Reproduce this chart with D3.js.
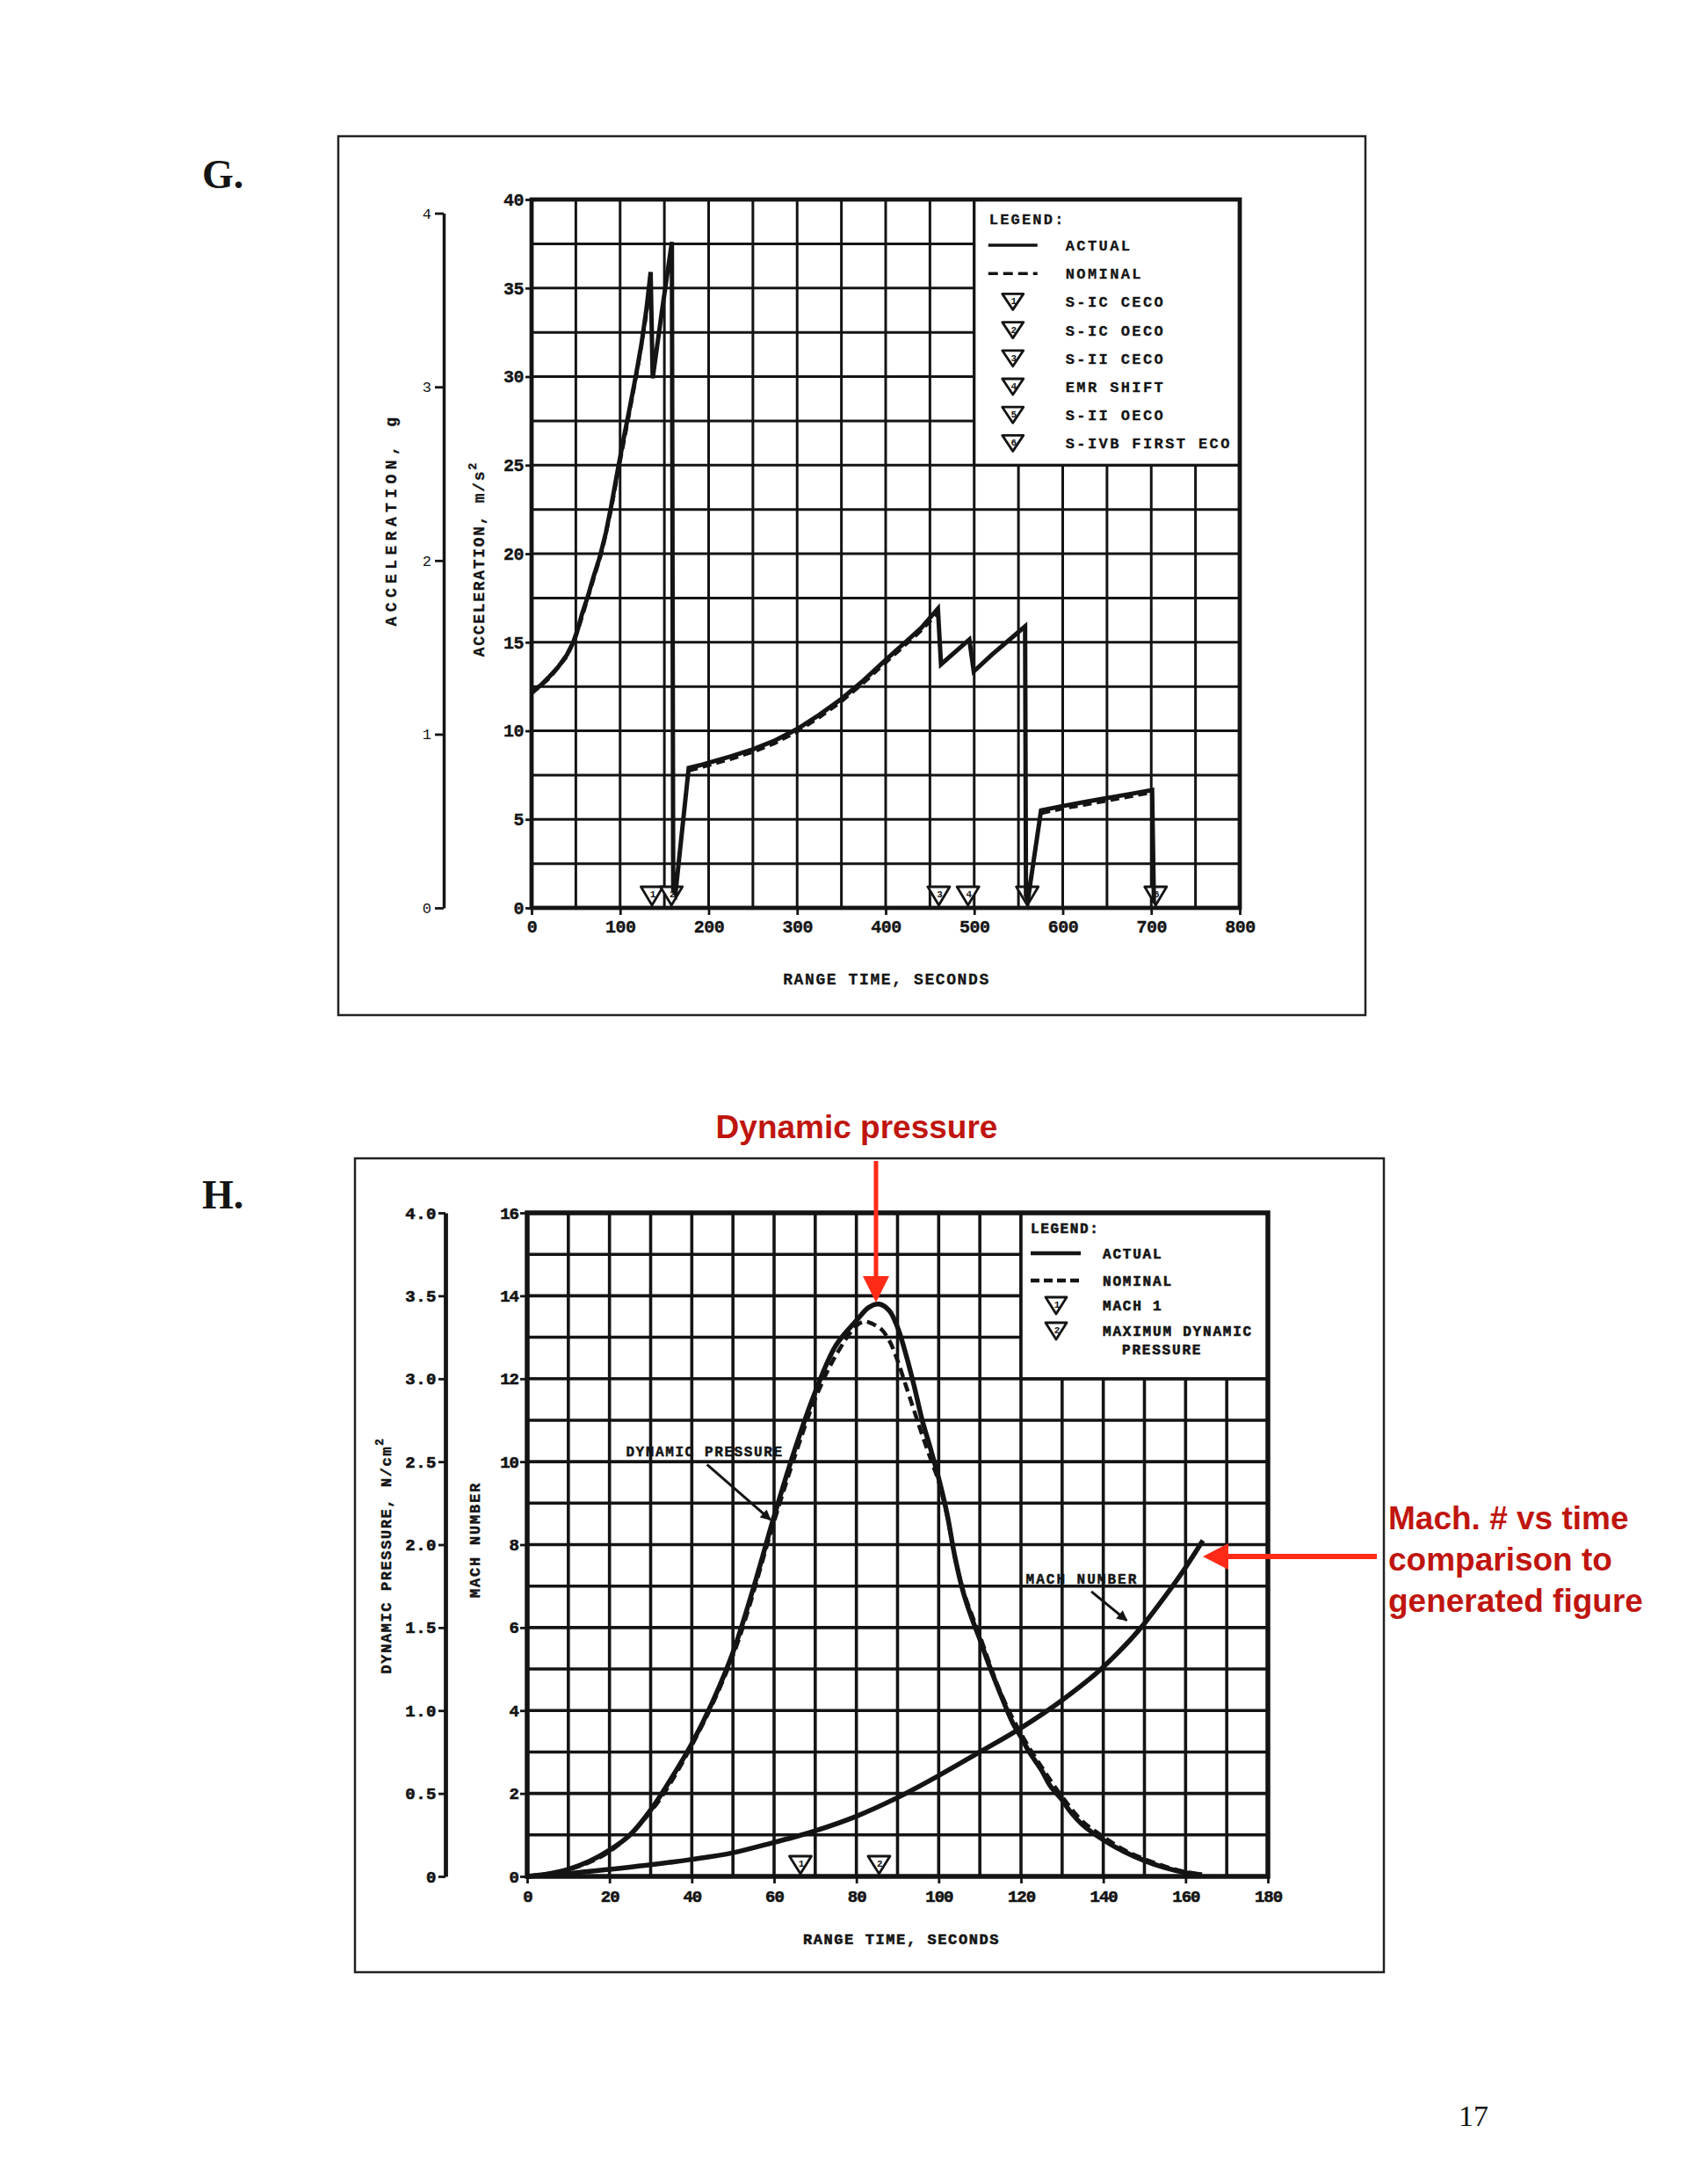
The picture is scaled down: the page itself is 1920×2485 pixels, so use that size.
<!DOCTYPE html>
<html>
<head>
<meta charset="utf-8">
<script src="https://cdn.jsdelivr.net/npm/d3@7"></script>
<style>
  body { margin: 0; background: #fff; }
  svg { display: block; background: #fff; }
</style>
</head>
<body>
<svg id="page" width="1920" height="2485"></svg>
<script>
// ---- chart G : acceleration vs range time ----
const gTimeTicks = [0, 100, 200, 300, 400, 500, 600, 700, 800];
const gAccelTicks = [0, 5, 10, 15, 20, 25, 30, 35, 40];
const gGTicks = [0, 1, 2, 3, 4];

// [range time s, acceleration m/s^2]
const gActual = [
  [0, 12.2], [10, 12.55], [20, 13.05], [30, 13.6], [40, 14.3], [47, 15.0], [52, 15.7],
  [57, 16.6], [63, 17.5], [70, 18.7], [77, 19.8], [84, 21.2], [90, 22.7], [98, 24.9],
  [104, 26.5], [110, 28.0], [118, 30.1], [124, 31.8], [130, 33.9], [134.5, 35.9],
  [136.8, 29.9], [147, 33.6], [158.5, 37.6], [160, 1.0], [162.5, 0.8], [177.5, 7.9],
  [190, 8.05], [200, 8.2], [225, 8.55], [250, 8.95], [275, 9.45], [300, 10.1],
  [325, 10.9], [350, 11.8], [375, 12.85], [400, 14.0], [420, 14.9], [440, 15.8],
  [459, 16.9], [462.5, 13.75], [494.5, 15.15], [499.5, 13.35], [520, 14.3], [540, 15.15],
  [557.5, 15.9], [558.5, 0.7], [560.5, 0.4], [575.5, 5.5], [600, 5.75], [625, 5.98],
  [650, 6.2], [675, 6.42], [701, 6.65], [703, 0.3]
];
// null value = gap between burns
const gNominal = [
  [0, 12.1], [20, 12.95], [40, 14.2], [50, 15.3], [60, 16.9], [70, 18.55], [80, 20.2],
  [90, 22.5], [100, 25.2], [110, 27.8], [120, 30.5], [130, 33.6], [134.3, 35.6],
  [150, null],
  [178, 7.75], [200, 8.05], [225, 8.4], [250, 8.8], [275, 9.3], [300, 9.95], [325, 10.75],
  [350, 11.65], [375, 12.7], [400, 13.85], [420, 14.75], [440, 15.65], [458, 16.6],
  [520, null],
  [576, 5.35], [600, 5.6], [625, 5.82], [650, 6.05], [675, 6.28], [700, 6.5]
];
const gEventTimes = [136, 158, 460, 493, 560, 705];
const gEventLabels = ["S-IC CECO", "S-IC OECO", "S-II CECO", "EMR SHIFT", "S-II OECO", "S-IVB FIRST ECO"];

// ---- chart H : dynamic pressure and mach number ----
const hTimeTicks = [0, 20, 40, 60, 80, 100, 120, 140, 160, 180];
const hMachTicks = [0, 2, 4, 6, 8, 10, 12, 14, 16];
const hQTicks = [0, 0.5, 1.0, 1.5, 2.0, 2.5, 3.0, 3.5, 4.0];

// [range time s, dynamic pressure N/cm^2]
const qActual = [
  [0, 0], [5, 0.015], [10, 0.043], [15, 0.09], [20, 0.158], [25, 0.25], [30, 0.4],
  [35, 0.59], [40, 0.8], [45, 1.05], [50, 1.35], [55, 1.74], [60, 2.17], [65, 2.57],
  [70, 2.92], [75, 3.2], [80, 3.35], [83, 3.43], [85.5, 3.45], [88, 3.41], [90, 3.31],
  [92, 3.15], [94, 2.96], [96, 2.75], [98, 2.58], [100, 2.4], [102, 2.19], [104, 1.92],
  [106, 1.71], [108, 1.56], [110, 1.43], [112, 1.29], [115, 1.1], [118, 0.925],
  [120, 0.84], [122, 0.75], [125, 0.64], [127, 0.55], [130, 0.46], [132, 0.39],
  [135, 0.31], [140, 0.22], [145, 0.15], [150, 0.095], [155, 0.052], [160, 0.022], [164, 0.01]
];
const qNominal = [
  [0, 0], [10, 0.04], [20, 0.15], [30, 0.39], [40, 0.79], [50, 1.33], [60, 2.14],
  [65, 2.53], [70, 2.88], [75, 3.14], [80, 3.32], [82, 3.345], [84, 3.33], [86, 3.3],
  [88, 3.23], [90, 3.11], [92, 2.96], [94, 2.81], [96, 2.66], [98, 2.52], [100, 2.38],
  [102, 2.18], [104, 1.92], [106, 1.72], [110, 1.45], [115, 1.11], [120, 0.86],
  [125, 0.66], [130, 0.48], [135, 0.33], [140, 0.24], [145, 0.16], [150, 0.105],
  [155, 0.06], [160, 0.027], [164, 0.012]
];
// [range time s, mach number]
const machActual = [
  [0, 0], [10, 0.07], [20, 0.17], [30, 0.28], [40, 0.41], [50, 0.57], [60, 0.82],
  [66, 0.98], [70, 1.1], [80, 1.45], [90, 1.9], [100, 2.43], [110, 3.0], [120, 3.58],
  [130, 4.25], [140, 5.05], [150, 6.1], [155, 6.75], [160, 7.45], [164.2, 8.1]
];
const hEventTimes = [66.4, 85.5];
const hEventLabels = [["MACH 1"], ["MAXIMUM DYNAMIC", "PRESSURE"]];

const INK = "#141414";
const MONO = "'Liberation Mono', 'DejaVu Sans Mono', monospace";
const SERIF = "'Liberation Serif', 'Times New Roman', serif";
const SANS = "'Liberation Sans', Arial, sans-serif";
const RED_TEXT = "#c0150f";
const RED_ARROW = "#ff2b17";

const svg = d3.select("#page");

const addText = (parent, x, y, str, opts = {}) => {
    const t = parent.append("text")
                    .attr("x", x)
                    .attr("y", y)
                    .attr("font-family", opts.family || MONO)
                    .attr("font-weight", opts.weight || "bold")
                    .attr("font-size", opts.size || 17)
                    .attr("letter-spacing", opts.spacing || 0)
                    .attr("text-anchor", opts.anchor || "start")
                    .attr("fill", opts.fill || INK)
                    .text(str);
    // heavier scanned lettering
    if (opts.heavy) {
        t.attr("stroke", INK).attr("stroke-width", opts.heavy);
    }
    return t;
}

const renderGrid = (g, xScale, yScale, xStep, yStep, width) => {
    const [x0, x1] = xScale.domain();
    const [y0, y1] = yScale.domain();
    g.append("g")
     .selectAll("line")
     .data(d3.range(x0, x1 + 1e-6, xStep))
     .join("line")
     .attr("x1", d => xScale(d)).attr("x2", d => xScale(d))
     .attr("y1", yScale(y0)).attr("y2", yScale(y1))
     .attr("stroke", INK).attr("stroke-width", width);
    g.append("g")
     .selectAll("line")
     .data(d3.range(y0, y1 + 1e-6, yStep))
     .join("line")
     .attr("x1", xScale(x0)).attr("x2", xScale(x1))
     .attr("y1", d => yScale(d)).attr("y2", d => yScale(d))
     .attr("stroke", INK).attr("stroke-width", width);
}

const styleAxis = (axisG, size, weight, spacing = 0, heavy = 0) => {
    axisG.attr("font-family", MONO)
         .attr("font-size", size)
         .attr("font-weight", weight);
    axisG.selectAll(".tick line").attr("stroke", INK).attr("stroke-width", 2.8);
    axisG.selectAll(".tick text").attr("fill", INK).attr("letter-spacing", spacing);
    if (heavy) {
        axisG.selectAll(".tick text").attr("stroke", INK).attr("stroke-width", heavy);
    }
    axisG.select(".domain").attr("stroke", INK).attr("stroke-width", 3.5);
}

const renderMarker = (g, cx, tipY, w, h, num) => {
    g.append("path")
     .attr("d", `M${cx - w / 2},${tipY - h}L${cx + w / 2},${tipY - h}L${cx},${tipY}Z`)
     .attr("fill", "#fff")
     .attr("stroke", INK)
     .attr("stroke-width", 2.8)
     .attr("stroke-linejoin", "round");
    addText(g, cx + 1, tipY - h + 12, num, {size: 11, anchor: "middle"});
}

const rotatedTitle = (g, x, y, str, sup, size, spacing, heavy = 0) => {
    const t = g.append("text")
               .attr("transform", `translate(${x},${y}) rotate(-90)`)
               .attr("text-anchor", "middle")
               .attr("font-family", MONO)
               .attr("font-weight", "bold")
               .attr("font-size", size)
               .attr("letter-spacing", spacing)
               .attr("fill", INK);
    if (heavy) t.attr("stroke", INK).attr("stroke-width", heavy);
    t.append("tspan").text(str);
    if (sup) {
        t.append("tspan").attr("dy", -9).attr("font-size", size * 0.75).text(sup);
    }
    return t;
}

const defs = svg.append("defs");
defs.append("marker")
    .attr("id", "leader")
    .attr("viewBox", "0 0 10 10")
    .attr("refX", 9).attr("refY", 5)
    .attr("markerWidth", 5).attr("markerHeight", 4)
    .attr("orient", "auto")
    .append("path")
    .attr("d", "M0,0L10,5L0,10Z")
    .attr("fill", INK);

const renderChartG = () => {
    const g = svg.append("g").attr("id", "chart-g");

    g.append("rect")
     .attr("x", 385).attr("y", 155).attr("width", 1169).attr("height", 1000)
     .attr("fill", "none").attr("stroke", "#222").attr("stroke-width", 2.5);
    addText(g, 230, 214, "G.", {family: SERIF, size: 46});

    const x = d3.scaleLinear().domain([0, 800]).range([605, 1411]);
    const y = d3.scaleLinear().domain([0, 40]).range([1033, 227]);
    const yG = d3.scaleLinear().domain([0, 4]).range([y(0), y(4 * 9.80665)]);

    renderGrid(g, x, y, 50, 2.5, 3);

    // legend box sits on the grid
    const lx = x(500), ly = y(40), lw = x(800) - x(500), lh = y(25) - y(40);
    g.append("rect")
     .attr("x", lx).attr("y", ly).attr("width", lw).attr("height", lh)
     .attr("fill", "#fff").attr("stroke", INK).attr("stroke-width", 3.2);

    g.append("rect")
     .attr("x", x(0)).attr("y", y(40)).attr("width", x(800) - x(0)).attr("height", y(0) - y(40))
     .attr("fill", "none").attr("stroke", INK).attr("stroke-width", 4.8);

    const yAxis = g.append("g")
                   .attr("transform", `translate(${x(0)},0)`)
                   .call(d3.axisLeft(y).tickValues(gAccelTicks).tickSize(7).tickPadding(2));
    styleAxis(yAxis, 20, "bold", -0.5, 0.4);
    yAxis.select(".domain").remove();

    const xAxis = g.append("g")
                   .attr("transform", `translate(0,${y(0)})`)
                   .call(d3.axisBottom(x).tickValues(gTimeTicks).tickSize(8).tickPadding(6));
    styleAxis(xAxis, 20, "bold", -0.5, 0.4);
    xAxis.select(".domain").remove();

    const gAxis = g.append("g")
                   .attr("transform", "translate(505,0)")
                   .call(d3.axisLeft(yG).tickValues(gGTicks).tickSize(10).tickSizeOuter(0).tickPadding(4)
                           .tickFormat(d3.format("d")));
    styleAxis(gAxis, 17, "normal");

    rotatedTitle(g, 451, 591, "ACCELERATION, g", null, 18, 5.4, 0.3);
    rotatedTitle(g, 551, 636, "ACCELERATION, m/s", "2", 18, 1.7, 0.3);
    addText(g, 1009, 1120, "RANGE TIME, SECONDS", {size: 18, spacing: 1.6, anchor: "middle", heavy: 0.3});

    // event markers
    gEventTimes.forEach((t, i) => renderMarker(g, x(t), y(0) - 3, 25, 21, String(i + 1)));

    const line = d3.line()
                   .defined(d => d[1] != null)
                   .x(d => x(d[0]))
                   .y(d => y(d[1]));

    g.append("path")
     .datum(gNominal)
     .attr("d", line)
     .attr("fill", "none").attr("stroke", INK).attr("stroke-width", 4)
     .attr("stroke-dasharray", "10,6");
    g.append("path")
     .datum(gActual)
     .attr("d", line)
     .attr("fill", "none").attr("stroke", INK).attr("stroke-width", 5)
     .attr("stroke-linejoin", "miter").attr("stroke-miterlimit", 6);

    // legend content
    addText(g, lx + 17, ly + 28, "LEGEND:", {size: 17, spacing: 2.2, heavy: 0.3});
    const rowY = i => ly + 52 + i * 32.2;
    g.append("line").attr("x1", lx + 16).attr("x2", lx + 72).attr("y1", rowY(0)).attr("y2", rowY(0))
     .attr("stroke", INK).attr("stroke-width", 3.5);
    g.append("line").attr("x1", lx + 16).attr("x2", lx + 72).attr("y1", rowY(1)).attr("y2", rowY(1))
     .attr("stroke", INK).attr("stroke-width", 3.5).attr("stroke-dasharray", "11,6");
    addText(g, lx + 104, rowY(0) + 6, "ACTUAL", {size: 17, spacing: 2.4, heavy: 0.3});
    addText(g, lx + 104, rowY(1) + 6, "NOMINAL", {size: 17, spacing: 2.4, heavy: 0.3});
    gEventLabels.forEach((label, i) => {
        renderMarker(g, lx + 44, rowY(i + 2) + 9, 24, 18, String(i + 1));
        addText(g, lx + 104, rowY(i + 2) + 6, label, {size: 17, spacing: 2.4, heavy: 0.3});
    });
}

const renderChartH = () => {
    const g = svg.append("g").attr("id", "chart-h");

    g.append("rect")
     .attr("x", 404).attr("y", 1318).attr("width", 1171).attr("height", 926)
     .attr("fill", "none").attr("stroke", "#222").attr("stroke-width", 2.5);
    addText(g, 230, 1375, "H.", {family: SERIF, size: 46});

    const x = d3.scaleLinear().domain([0, 180]).range([600, 1443]);
    const y = d3.scaleLinear().domain([0, 16]).range([2135, 1380]);
    const yQ = d3.scaleLinear().domain([0, 4]).range([2135, 1380]);

    renderGrid(g, x, y, 10, 1, 3.6);

    const lx = x(120), ly = y(16), lw = x(180) - x(120), lh = y(12) - y(16);
    g.append("rect")
     .attr("x", lx).attr("y", ly).attr("width", lw).attr("height", lh)
     .attr("fill", "#fff").attr("stroke", INK).attr("stroke-width", 3.6);

    g.append("rect")
     .attr("x", x(0)).attr("y", y(16)).attr("width", x(180) - x(0)).attr("height", y(0) - y(16))
     .attr("fill", "none").attr("stroke", INK).attr("stroke-width", 5.5);

    const yAxis = g.append("g")
                   .attr("transform", `translate(${x(0)},0)`)
                   .call(d3.axisLeft(y).tickValues(hMachTicks).tickSize(8).tickPadding(2));
    styleAxis(yAxis, 19, "bold", -1, 0.6);
    yAxis.select(".domain").remove();

    const xAxis = g.append("g")
                   .attr("transform", `translate(0,${y(0)})`)
                   .call(d3.axisBottom(x).tickValues(hTimeTicks).tickSize(8).tickPadding(8));
    styleAxis(xAxis, 19, "bold", -1, 0.6);
    xAxis.select(".domain").remove();

    const qAxis = g.append("g")
                   .attr("transform", "translate(507,0)")
                   .call(d3.axisLeft(yQ).tickValues(hQTicks).tickSize(8).tickSizeOuter(0).tickPadding(2)
                           .tickFormat(d => d === 0 ? "0" : d3.format(".1f")(d)));
    styleAxis(qAxis, 19, "bold", 0.5, 0.6);
    qAxis.select(".domain").attr("stroke-width", 4.8);

    rotatedTitle(g, 445, 1770, "DYNAMIC PRESSURE, N/cm", "2", 17, 1.6, 0.5);
    rotatedTitle(g, 546, 1752, "MACH NUMBER", null, 17, 1.8, 0.5);
    addText(g, 1026, 2212, "RANGE TIME, SECONDS", {size: 17, spacing: 1.6, anchor: "middle", heavy: 0.6});

    hEventTimes.forEach((t, i) => renderMarker(g, x(t), y(0) - 3, 25, 20, String(i + 1)));

    const machLine = d3.line().x(d => x(d[0])).y(d => y(d[1])).curve(d3.curveMonotoneX);
    const qLine = d3.line().x(d => x(d[0])).y(d => yQ(d[1])).curve(d3.curveCatmullRom.alpha(0.5));

    g.append("path")
     .datum(qNominal)
     .attr("d", qLine)
     .attr("fill", "none").attr("stroke", INK).attr("stroke-width", 4.5)
     .attr("stroke-dasharray", "11,6");
    g.append("path")
     .datum(qActual)
     .attr("d", qLine)
     .attr("fill", "none").attr("stroke", INK).attr("stroke-width", 5.5);
    g.append("path")
     .datum(machActual)
     .attr("d", machLine)
     .attr("fill", "none").attr("stroke", INK).attr("stroke-width", 5.5);

    // curve call-outs
    addText(g, x(24), y(10.25) + 6, "DYNAMIC PRESSURE", {size: 16, spacing: 1.6, heavy: 0.5});
    g.append("line")
     .attr("x1", x(43.7)).attr("y1", y(9.93)).attr("x2", x(59.1)).attr("y2", y(8.6))
     .attr("stroke", INK).attr("stroke-width", 3).attr("marker-end", "url(#leader)");
    addText(g, x(121.2), y(7.19) + 6, "MACH NUMBER", {size: 16, spacing: 2.0, heavy: 0.5});
    g.append("line")
     .attr("x1", x(137.1)).attr("y1", y(6.87)).attr("x2", x(145.7)).attr("y2", y(6.17))
     .attr("stroke", INK).attr("stroke-width", 3).attr("marker-end", "url(#leader)");

    // legend content
    addText(g, lx + 11, ly + 23, "LEGEND:", {size: 16, spacing: 1.6, heavy: 0.6});
    const rows = [46, 77, 105, 134];
    g.append("line").attr("x1", lx + 11).attr("x2", lx + 68).attr("y1", ly + rows[0]).attr("y2", ly + rows[0])
     .attr("stroke", INK).attr("stroke-width", 4.5);
    g.append("line").attr("x1", lx + 11).attr("x2", lx + 68).attr("y1", ly + rows[1]).attr("y2", ly + rows[1])
     .attr("stroke", INK).attr("stroke-width", 4.5).attr("stroke-dasharray", "10,5");
    addText(g, lx + 93, ly + rows[0] + 6, "ACTUAL", {size: 16, spacing: 1.8, heavy: 0.6});
    addText(g, lx + 93, ly + rows[1] + 6, "NOMINAL", {size: 16, spacing: 1.8, heavy: 0.6});
    hEventLabels.forEach((lines, i) => {
        renderMarker(g, lx + 40, ly + rows[i + 2] + 10, 24, 19, String(i + 1));
        lines.forEach((txt, j) => {
            addText(g, lx + 93 + j * 22, ly + rows[i + 2] + 6 + j * 21, txt, {size: 16, spacing: 1.8, heavy: 0.6});
        });
    });
}

const renderAnnotations = () => {
    const g = svg.append("g").attr("id", "notes");

    addText(g, 975, 1295, "Dynamic pressure", {family: SANS, size: 37, fill: RED_TEXT, anchor: "middle"});
    g.append("line")
     .attr("x1", 997).attr("y1", 1321).attr("x2", 997).attr("y2", 1456)
     .attr("stroke", RED_ARROW).attr("stroke-width", 5);
    g.append("path")
     .attr("d", "M982,1452L1012,1452L997,1482Z")
     .attr("fill", RED_ARROW);

    ["Mach. # vs time", "comparison to", "generated figure"].forEach((txt, i) => {
        addText(g, 1580, 1740 + i * 47, txt, {family: SANS, size: 37, fill: RED_TEXT});
    });
    g.append("line")
     .attr("x1", 1567).attr("y1", 1771).attr("x2", 1394).attr("y2", 1771)
     .attr("stroke", RED_ARROW).attr("stroke-width", 6);
    g.append("path")
     .attr("d", "M1398,1756L1398,1786L1369,1771Z")
     .attr("fill", RED_ARROW);

    addText(g, 1677, 2419, "17", {family: SERIF, weight: "normal", size: 34, anchor: "middle"});
}

renderChartG();
renderChartH();
renderAnnotations();
</script>
</body>
</html>
